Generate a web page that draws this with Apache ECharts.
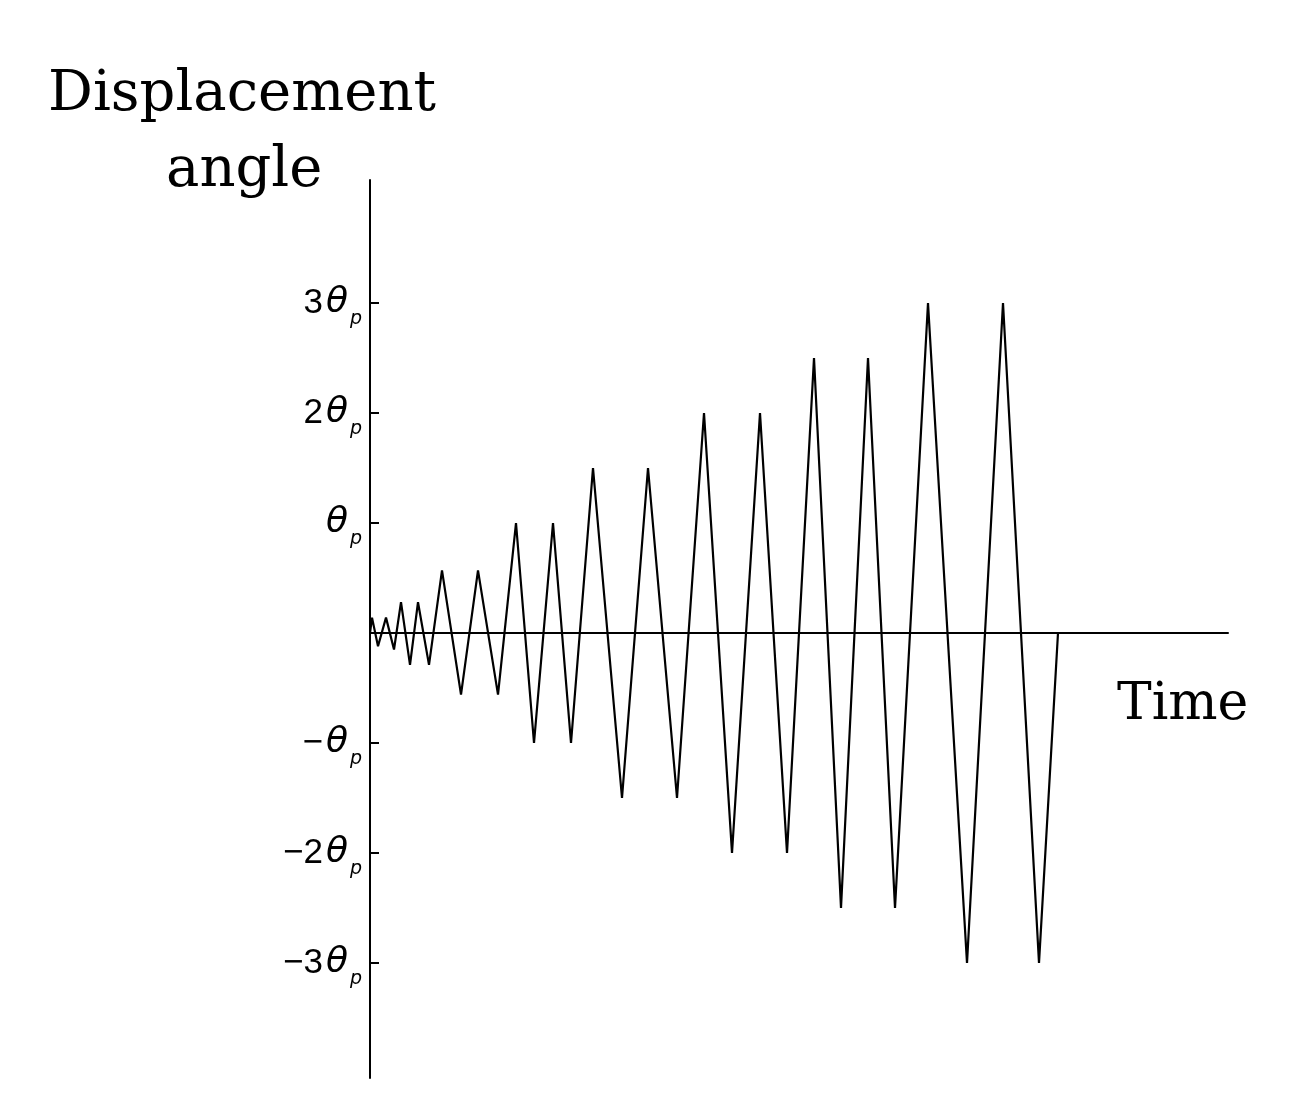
<!DOCTYPE html>
<html>
<head>
<meta charset="utf-8">
<script src="https://cdn.jsdelivr.net/npm/echarts@6/dist/echarts.min.js"></script>
<style>
html,body{margin:0;padding:0;background:#fff;}
#chart{width:1314px;height:1113px;}
</style>
</head>
<body>
<div id="chart"></div>
<script>
// Time (arbitrary units) of each vertex of the loading protocol
const timeData = [0, 2, 8, 16, 24, 31, 40, 48, 59, 72, 91, 108, 128, 146, 164, 183, 201,
  223, 252, 278, 307, 334, 362, 390, 417, 444, 471, 498, 525, 558, 597, 633, 669, 688];
// Displacement angle in multiples of theta_p
const angleData = [0, 0.14, -0.12, 0.14, -0.15, 0.28, -0.29, 0.28, -0.29, 0.57, -0.56, 0.57, -0.56,
  1, -1, 1, -1, 1.5, -1.5, 1.5, -1.5, 2, -2, 2, -2, 2.5, -2.5, 2.5, -2.5, 3, -3, 3, -3, 0];
// Tick values and their labels
const tickValues = [-3, -2, -1, 1, 2, 3];
const tickLabels = {
  '3': '{n|3}{t|θ}{s|p}',
  '2': '{n|2}{t|θ}{s|p}',
  '1': '{t|θ}{s|p}',
  '-1': '{n|−}{t|θ}{s|p}',
  '-2': '{n|−2}{t|θ}{s|p}',
  '-3': '{n|−3}{t|θ}{s|p}'
};
const yTitleLines = ['Displacement', 'angle'];
const xTitle = 'Time';

const seriesData = timeData.map((t, i) => [t, angleData[i]]);

const chart = echarts.init(document.getElementById('chart'), null, {renderer: 'canvas'});
const serif = '"DejaVu Serif", serif';
chart.setOption({
  animation: false,
  backgroundColor: '#ffffff',
  grid: {left: 370, right: 86, top: 180, bottom: 35, containLabel: false},
  xAxis: {
    type: 'value', min: 0, max: 858,
    axisLine: {show: true, onZero: true, lineStyle: {color: '#000', width: 2}},
    axisTick: {show: false}, axisLabel: {show: false}, splitLine: {show: false}
  },
  yAxis: {
    type: 'value', min: -4.045, max: 4.118,
    axisLine: {show: true, lineStyle: {color: '#000', width: 2}},
    axisTick: {show: true, inside: true, length: 9, customValues: tickValues, lineStyle: {color: '#000', width: 2}},
    axisLabel: {
      show: true, customValues: tickValues, margin: 8,
      formatter: v => tickLabels[String(Math.round(v))] || '',
      rich: {
        n: {fontFamily: '"Liberation Sans", Arial, sans-serif', fontSize: 35, color: '#000', lineHeight: 52, verticalAlign: 'middle', padding: [0, 3, 0, 0]},
        t: {fontFamily: '"DejaVu Sans", sans-serif', fontStyle: 'italic', fontSize: 36, color: '#000', lineHeight: 52, verticalAlign: 'middle', padding: [0, 2, 0, 0]},
        s: {fontFamily: '"DejaVu Sans", sans-serif', fontStyle: 'italic', fontSize: 19, color: '#000', lineHeight: 52, verticalAlign: 'bottom'}
      }
    },
    splitLine: {show: false}
  },
  graphic: [
    {type: 'text', left: 48, top: 67, style: {text: yTitleLines[0], font: '56px ' + serif, fill: '#000'}},
    {type: 'text', left: 166, top: 143, style: {text: yTitleLines[1], font: '56px ' + serif, fill: '#000'}},
    {type: 'text', left: 1117, top: 679, style: {text: xTitle, font: '52px ' + serif, fill: '#000'}}
  ],
  series: [{
    type: 'line', data: seriesData, symbol: 'none', smooth: false,
    lineStyle: {color: '#000', width: 2.2}
  }]
});
</script>
</body>
</html>
